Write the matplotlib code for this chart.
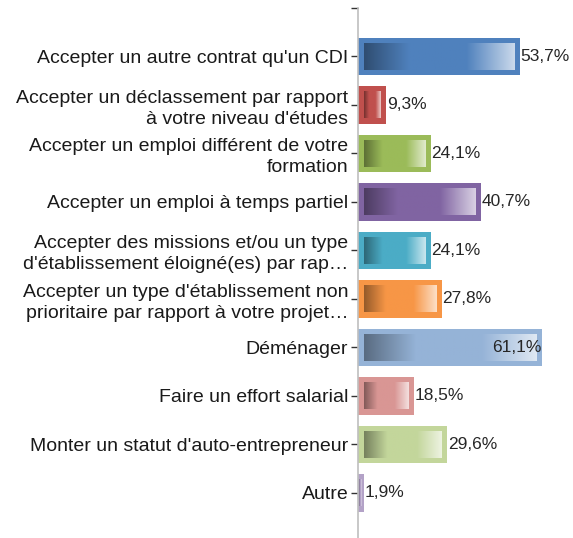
import matplotlib.pyplot as plt
import matplotlib.colors as mcolors
import numpy as np

plt.rcParams['font.family'] = ['Liberation Sans', 'DejaVu Sans']

categories = [
    "Accepter un autre contrat qu'un CDI",
    "Accepter un déclassement par rapport\nà votre niveau d'études",
    "Accepter un emploi différent de votre\nformation",
    "Accepter un emploi à temps partiel",
    "Accepter des missions et/ou un type\nd'établissement éloigné(es) par rap…",
    "Accepter un type d'établissement non\nprioritaire par rapport à votre projet…",
    "Déménager",
    "Faire un effort salarial",
    "Monter un statut d'auto-entrepreneur",
    "Autre",
]
values = [53.7, 9.3, 24.1, 40.7, 24.1, 27.8, 61.1, 18.5, 29.6, 1.9]
value_labels = ["53,7%", "9,3%", "24,1%", "40,7%", "24,1%", "27,8%",
                "61,1%", "18,5%", "29,6%", "1,9%"]
colors = ["#4F81BD", "#C0504D", "#9BBB59", "#8064A2", "#4BACC6", "#F79646",
          "#95B3D7", "#D99694", "#C3D69B", "#B3A2C7"]


def gradient_row(color, n=200):
    """Dark on the left, plain colour in the middle, whitish on the right."""
    base = np.array(mcolors.to_rgb(color))
    dark = base * 0.6
    light = base + (1 - base) * 0.7
    t = np.linspace(0, 1, n)
    row = np.zeros((1, n, 3))
    for i, ti in enumerate(t):
        if ti < 0.3:
            c = dark + (base - dark) * (ti / 0.3)
        elif ti < 0.68:
            c = base
        else:
            c = base + (light - base) * ((ti - 0.68) / 0.32)
        row[0, i] = c
    return row


fig = plt.figure(figsize=(5.73, 5.38), dpi=100)
ax = fig.add_axes([358 / 573, 0, 215 / 573, 1 - 8 / 538])

y = np.arange(len(categories))
h = 0.77
bars = ax.barh(y, values, height=h, color=colors, edgecolor="none", zorder=2)

for rect, col in zip(bars, colors):
    x0, w = rect.get_x(), rect.get_width()
    yc = rect.get_y() + h / 2
    padx = min(1.9, w * 0.25)
    pady = 0.11
    if w - 2 * padx > 0:
        ax.imshow(gradient_row(col), extent=(x0 + padx, x0 + w - padx,
                                             yc + h / 2 - pady, yc - h / 2 + pady),
                  aspect="auto", zorder=3, interpolation="bilinear")

for yi, v, lab in zip(y, values, value_labels):
    if v > 58:
        ax.text(v - 0.2, yi, lab, ha="right", va="center", fontsize=12.5,
                color="#262626", zorder=4)
    else:
        ax.text(v + 0.3, yi, lab, ha="left", va="center", fontsize=12.5,
                color="#262626", zorder=4)

ax.set_xlim(0, 71.4)
ax.set_ylim(9.93, -1)
ax.set_yticks([-1] + list(y))
ax.set_yticklabels([""] + categories, fontsize=14, color="#1a1a1a",
                   linespacing=1.3)
for t in ax.get_yticklabels():
    t.set_multialignment("right")
ax.tick_params(axis="y", length=5, width=1, color="#333333", pad=2)
ax.set_xticks([])
for s in ["top", "right", "bottom"]:
    ax.spines[s].set_visible(False)
ax.spines["left"].set_color("#bfbfbf")
ax.spines["left"].set_linewidth(1.2)

fig.savefig("out.png", dpi=100)
